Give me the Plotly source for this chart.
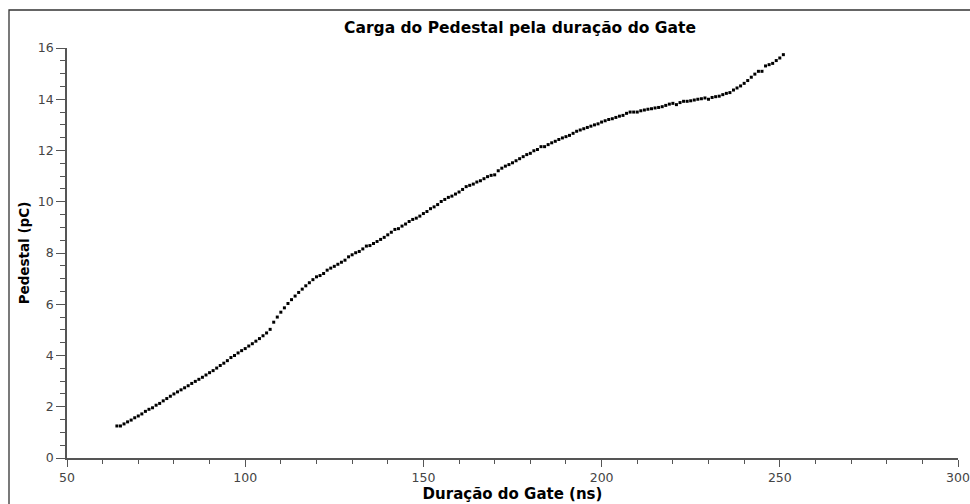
import plotly.graph_objects as go

gate_ns = list(range(64, 252))

pedestal_pc = [
    1.25, 1.25, 1.33, 1.41, 1.48, 1.57, 1.64, 1.72, 1.82, 1.90,   # 64-73
    1.96, 2.06, 2.13, 2.23, 2.32, 2.41, 2.50, 2.58, 2.66, 2.74,   # 74-83
    2.82, 2.91, 2.99, 3.07, 3.15, 3.24, 3.33, 3.41, 3.51, 3.61,   # 84-93
    3.70, 3.80, 3.92, 4.00, 4.10, 4.19, 4.27, 4.37, 4.46, 4.56,   # 94-103
    4.66, 4.77, 4.88, 5.02, 5.30, 5.50, 5.69, 5.86, 6.03, 6.18,   # 104-113
    6.32, 6.46, 6.59, 6.72, 6.84, 6.96, 7.07, 7.12, 7.20, 7.33,   # 114-123
    7.41, 7.48, 7.56, 7.64, 7.72, 7.85, 7.93, 8.01, 8.06, 8.16,   # 124-133
    8.27, 8.29, 8.37, 8.45, 8.53, 8.61, 8.71, 8.81, 8.92, 8.95,   # 134-143
    9.05, 9.13, 9.23, 9.31, 9.36, 9.44, 9.54, 9.62, 9.73, 9.80,   # 144-153
    9.89, 10.01, 10.09, 10.17, 10.22, 10.30, 10.38, 10.48, 10.59, 10.64,  # 154-163
    10.69, 10.77, 10.82, 10.90, 10.98, 11.03, 11.05, 11.21, 11.31, 11.39,  # 164-173
    11.45, 11.52, 11.60, 11.68, 11.76, 11.84, 11.89, 11.99, 12.04, 12.15,  # 174-183
    12.15, 12.23, 12.30, 12.36, 12.43, 12.49, 12.54, 12.59, 12.67, 12.75,  # 184-193
    12.80, 12.85, 12.90, 12.95, 13.00, 13.04, 13.11, 13.16, 13.21, 13.24,  # 194-203
    13.29, 13.34, 13.37, 13.45, 13.50, 13.50, 13.50, 13.55, 13.58, 13.61,  # 204-213
    13.63, 13.66, 13.68, 13.71, 13.76, 13.81, 13.84, 13.79, 13.87, 13.92,  # 214-223
    13.92, 13.94, 13.97, 14.00, 14.02, 14.05, 14.00, 14.07, 14.10, 14.12,  # 224-233
    14.18, 14.23, 14.26, 14.36, 14.44, 14.52, 14.62, 14.73, 14.86, 14.98,  # 234-243
    15.09, 15.09, 15.30, 15.35, 15.40, 15.51, 15.61, 15.74,               # 244-251
]

title_text = "Carga do Pedestal pela duração do Gate"
x_title = "Duração do Gate (ns)"
y_title = "Pedestal (pC)"
x_ticks = [50, 100, 150, 200, 250, 300]
y_ticks = [0, 2, 4, 6, 8, 10, 12, 14, 16]

fig = go.Figure()
fig.add_trace(go.Scatter(
    x=gate_ns, y=pedestal_pc, mode="markers",
    marker=dict(symbol="square", size=3, color="black", line=dict(width=0)),
    showlegend=False, hoverinfo="x+y", cliponaxis=False,
))

axis_col = "#555555"
fig.update_layout(
    width=970, height=504,
    paper_bgcolor="white", plot_bgcolor="white",
    margin=dict(l=67, r=12, t=48, b=46, autoexpand=False),
    font=dict(family="DejaVu Sans", size=12.5, color="#333333"),
    title=dict(text="<b>" + title_text + "</b>", x=520 / 970, xanchor="center",
               y=1 - 28 / 504, yanchor="middle",
               font=dict(family="DejaVu Sans", size=15.5, color="black")),
    xaxis=dict(
        range=[50, 300], tickvals=x_ticks, ticktext=[str(v) for v in x_ticks],
        automargin=False,
        showgrid=False, zeroline=False, showline=True, linecolor=axis_col, linewidth=1.5,
        ticks="outside", ticklen=7, tickwidth=1, tickcolor=axis_col,
        minor=dict(dtick=10, tick0=50, ticks="outside", ticklen=4, tickwidth=1, tickcolor=axis_col, showgrid=False),
        title=dict(text="<b>" + x_title + "</b>", standoff=5,
                   font=dict(family="DejaVu Sans", size=15, color="black")),
        tickfont=dict(size=12.5, color="#444444"),
    ),
    yaxis=dict(
        range=[0, 16], tickvals=y_ticks, ticktext=[str(v) for v in y_ticks],
        automargin=False,
        showgrid=False, zeroline=False, showline=True, linecolor=axis_col, linewidth=1.5,
        ticks="outside", ticklen=9, tickwidth=1, tickcolor=axis_col,
        minor=dict(dtick=0.5, tick0=0, ticks="outside", ticklen=5, tickwidth=1, tickcolor=axis_col, showgrid=False),
        title=dict(text="<b>" + y_title + "</b>", standoff=5,
                   font=dict(family="DejaVu Sans", size=13.5, color="black")),
        tickfont=dict(size=12.5, color="#444444"),
    ),
    shapes=[dict(type="rect", xref="paper", yref="paper",
                 x0=(9 - 67) / 891, x1=2.0, y0=-1.0, y1=(458 - 10) / 410,
                 line=dict(color="#333333", width=1.3), fillcolor="rgba(0,0,0,0)", layer="below")],
)

fig.write_html("out.html", config={"displayModeBar": False},
               post_script="document.body.style.margin='0';document.body.style.overflow='hidden';")
